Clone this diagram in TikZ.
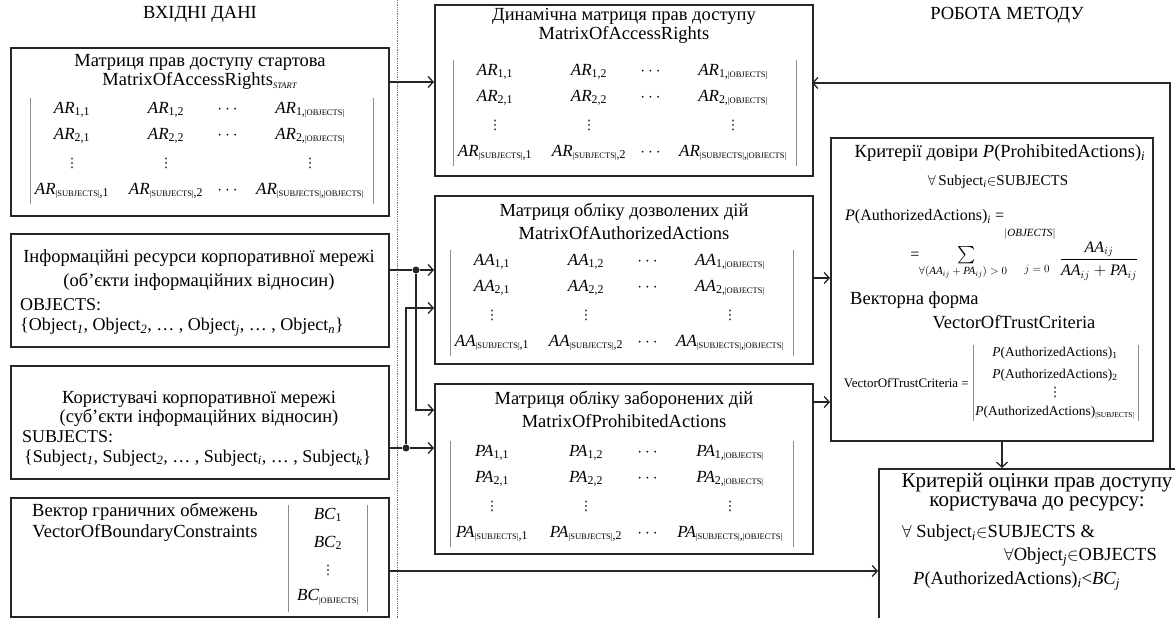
\documentclass[tikz,border=0pt]{standalone}
\usepackage{amsmath}
\usepackage{fontspec}
\setmainfont{Liberation Serif}
\newfontfamily\djv{DejaVu Sans}
\usetikzlibrary{arrows.meta,calc}
\newcommand\sml[1]{{\fontsize{8.5}{9}\selectfont #1}}
\newcommand\smlv[1]{{\fontsize{7.5}{8}\selectfont #1}}
\newcommand\mi[2]{\textit{#1}\textsubscript{#2}}
\newcommand\ti[1]{\text{\itshape #1}}
\newcommand\vd{{\djv\fontsize{13}{13}\selectfont ⋮}}
\newcommand\mtx[4]{%
  \node[ent] (#1-11) at (#3,#4) {\mi{#2}{1,1}};
  \node[ent] (#1-12) at ({#3+94},#4) {\mi{#2}{1,2}};
  \node[ent] (#1-13) at ({#3+157},#4) {$\cdots$};
  \node[ent] (#1-14) at ({#3+238},#4) {\mi{#2}{1,\sml{|OBJECTS|}}};
  \node[ent] (#1-21) at (#3,{#4+26}) {\mi{#2}{2,1}};
  \node[ent] (#1-22) at ({#3+94},{#4+26}) {\mi{#2}{2,2}};
  \node[ent] (#1-23) at ({#3+157},{#4+26}) {$\cdots$};
  \node[ent] (#1-24) at ({#3+238},{#4+26}) {\mi{#2}{2,\sml{|OBJECTS|}}};
  \node[ent] (#1-31) at (#3,{#4+53}) {\vd};
  \node[ent] (#1-32) at ({#3+94},{#4+53}) {\vd};
  \node[ent] (#1-34) at ({#3+238},{#4+53}) {\vd};
  \node[ent] (#1-41) at (#3,{#4+81}) {\mi{#2}{\sml{|SUBJECTS|},1}};
  \node[ent] (#1-42) at ({#3+94},{#4+81}) {\mi{#2}{\sml{|SUBJECTS|},2}};
  \node[ent] (#1-43) at ({#3+157},{#4+81}) {$\cdots$};
  \node[ent] (#1-44) at ({#3+238},{#4+81}) {\mi{#2}{\sml{|SUBJECTS|},\sml{|OBJECTS|}}};
  \draw[bar] ({#3-42},{#4-12}) -- ({#3-42},{#4+94});
  \draw[bar] ({#3+301},{#4-12}) -- ({#3+301},{#4+94});
}
\tikzset{
  every node/.style={inner sep=0pt, font=\fontsize{18.5}{20}\selectfont},
  box/.style={draw=black!85, line width=1.6pt, anchor=north west},
  ent/.style={font=\fontsize{17}{19}\selectfont},
  mid/.style={font=\fontsize{18}{20}\selectfont},
  small/.style={font=\fontsize{13}{14}\selectfont},
  vec/.style={font=\fontsize{13.5}{14}\selectfont},
  big/.style={font=\fontsize{21}{22}\selectfont},
  bar/.style={draw=black!45, line width=0.6pt},
  ln/.style={draw=black!85, line width=1.3pt},
  arr/.style={ln, -{Straight Barb[length=5pt,width=11pt,line width=1.3pt]}},
  dot/.style={circle, fill=black!85, minimum size=7pt}
}
\begin{document}
\begin{tikzpicture}[x=1pt,y=-1pt]
\useasboundingbox (0,0) rectangle (1175,618);
\fill[white] (0,0) rectangle (1175,618);
\clip (0,0) rectangle (1175,618);

% headers and separator
\node (h1) at (200,14) {ВХІДНІ ДАНІ};
\node (h2) at (1007,15) {РОБОТА МЕТОДУ};
\draw[densely dotted, black!55, line width=0.8pt] (397,0) -- (397,618);

% left boxes
\node[box, minimum width=378pt, minimum height=168pt] (A) at (10,47) {};
\node (A1) at (200,62) {Матриця прав доступу стартова};
\node (A2) at (200,81) {MatrixOfAccessRights\textsubscript{\textit{\sml{START}}}};
\mtx{ma}{AR}{72}{110}

\node[box, minimum width=378pt, minimum height=113pt] (B) at (10,233) {};
\node (B1) at (199,258) {Інформаційні ресурси корпоративної мережі};
\node (B2) at (199,282) {(об’єкти інформаційних відносин)};
\node[mid, anchor=west] (B3) at (20,305) {OBJECTS:};
\node[mid, anchor=west] (B4) at (20,327) {\{Object\textsubscript{\textit{1}}, Object\textsubscript{\textit{2}}, … , Object\textsubscript{\textit{j}}, … , Object\textsubscript{\textit{n}}\}};

\node[box, minimum width=378pt, minimum height=113pt] (C) at (10,365) {};
\node (C1) at (199,399) {Користувачі корпоративної мережі};
\node (C2) at (199,418) {(суб’єкти інформаційних відносин)};
\node[mid, anchor=west] (C3) at (22,437) {SUBJECTS:};
\node[mid, anchor=west] (C4) at (24,458) {\{Subject\textsubscript{\textit{1}}, Subject\textsubscript{\textit{2}}, … , Subject\textsubscript{\textit{i}}, … , Subject\textsubscript{\textit{k}}\}};

\node[box, minimum width=378pt, minimum height=119pt] (D) at (10,497) {};
\node (D1) at (145,512) {Вектор граничних обмежень};
\node (D2) at (145,533) {VectorOfBoundaryConstraints};
\node[ent] (D3) at (328,515) {\mi{BC}{1}};
\node[ent] (D4) at (328,543) {\mi{BC}{2}};
\node[ent] (D5) at (328,570) {\vd};
\node[ent] (D6) at (328,597) {\mi{BC}{\sml{|OBJECTS|}}};
\draw[bar] (288,505) -- (288,612);
\draw[bar] (367,505) -- (367,612);

% middle boxes
\node[box, minimum width=378pt, minimum height=171pt] (Dyn) at (434,4) {};
\node (Dyn1) at (624,16) {Динамічна матриця прав доступу};
\node (Dyn2) at (624,35) {MatrixOfAccessRights};
\mtx{md}{AR}{495}{72}

\node[box, minimum width=378pt, minimum height=168pt] (AA) at (434,195) {};
\node (AA1) at (624,212) {Матриця обліку дозволених дій};
\node (AA2) at (624,233) {MatrixOfAuthorizedActions};
\mtx{mo}{AA}{492}{262}

\node[box, minimum width=378pt, minimum height=170pt] (PA) at (434,383) {};
\node (PA1) at (624,400) {Матриця обліку заборонених дій};
\node (PA2) at (624,421) {MatrixOfProhibitedActions};
\mtx{mp}{PA}{492}{453}

% trust criteria box
\node[box, minimum width=322pt, minimum height=303pt] (T) at (830,137) {};
\node (T1) at (1000,153) {Критерії довіри \textit{P}(ProhibitedActions)\textsubscript{\textit{i}}};
\node[font=\fontsize{15}{16}\selectfont] (T2) at (998,182) {$\forall$\,Subject\textsubscript{\textit{i}}$\in$SUBJECTS};
\node[font=\fontsize{16}{17}\selectfont, anchor=west] (T3) at (845,217) {\textit{P}(AuthorizedActions)\textsubscript{\textit{i}} =};
\node[font=\fontsize{16}{17}\selectfont] (Teq) at (915,256) {=};
\node[font=\fontsize{19}{20}\selectfont] (Tsum) at (967,255) {$\sum$};
\node[font=\fontsize{11}{12}\selectfont] (Tsub) at (963,272) {$\forall(\ti{AA}_{ij}+\ti{PA}_{ij})>0$};
\node[font=\fontsize{11}{12}\selectfont] (Tobj) at (1030,234) {$|\ti{OBJECTS}|$};
\node[font=\fontsize{11}{12}\selectfont] (Tj) at (1037,270) {$j=0$};
\node[font=\fontsize{16}{17}\selectfont] (Tfr) at (1099,261) {$\dfrac{\ti{AA}_{ij}}{\ti{AA}_{ij}+\ti{PA}_{ij}}$};
\node[anchor=west] (T5) at (850,300) {Векторна форма};
\node (T6) at (1014,322) {VectorOfTrustCriteria};
\node[small, anchor=east] (T7) at (969,383) {VectorOfTrustCriteria =};
\node[vec] (T8) at (1055,353) {\textit{P}(AuthorizedActions)\textsubscript{1}};
\node[vec] (T9) at (1055,375) {\textit{P}(AuthorizedActions)\textsubscript{2}};
\node[vec] (T10) at (1055,392) {\vd};
\node[vec] (T11) at (1055,413) {\textit{P}(AuthorizedActions)\textsubscript{\smlv{|SUBJECTS|}}};
\draw[bar] (973,345) -- (973,421);
\draw[bar] (1138,345) -- (1138,421);

% final box
\node[box, minimum width=330pt, minimum height=170pt] (F) at (878,468) {};
\node[big] (F1) at (1037,483) {Критерій оцінки прав доступу};
\node[big] (F2) at (1037,504) {користувача до ресурсу:};
\node[anchor=west] (F3) at (902,533) {$\forall$ Subject\textsubscript{\textit{i}}$\in$SUBJECTS \&};
\node[anchor=east] (F4) at (1157,557) {$\forall$Object\textsubscript{\textit{j}}$\in$OBJECTS};
\node[anchor=west] (F5) at (913,581) {\textit{P}(AuthorizedActions)\textsubscript{\textit{i}}<\textit{BC}\textsubscript{\textit{j}}};

% connectors
\coordinate (ao) at (388,82);
\draw[arr] (ao) -- (ao -| Dyn.west);

\node[dot] (j1) at (416,270) {};
\node[dot] (j2) at (406,448) {};
\coordinate (aa2) at (434,308);
\coordinate (pa1) at (434,410);
\draw[ln] (B.east |- j1) -- (j1);
\draw[arr] (j1) -- (j1 -| AA.west);
\draw[arr] (j1) |- (pa1);
\draw[ln] (C.east |- j2) -- (j2);
\draw[arr] (j2) -- (j2 -| PA.west);
\draw[arr] (j2) |- (aa2);

\coordinate (aat) at (812,278);
\draw[arr] (aat) -- (aat -| T.west);
\coordinate (pat) at (812,402);
\draw[arr] (pat) -- (pat -| T.west);

\coordinate (tf) at (1002,440);
\draw[arr] (tf) -- (tf |- F.north);

\coordinate (fb) at (1170,468);
\coordinate (dynin) at (812,83);
\draw[arr] (fb) |- (dynin);

\coordinate (do) at (388,571);
\draw[arr] (do) -- (do -| F.west);
\end{tikzpicture}
\end{document}
